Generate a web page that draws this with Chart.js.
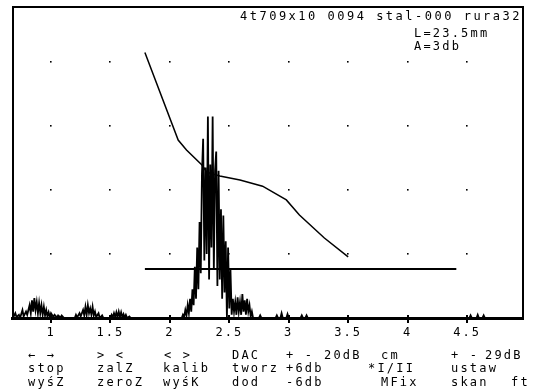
<!DOCTYPE html>
<html>
<head>
<meta charset="utf-8">
<script src="https://cdn.jsdelivr.net/npm/chart.js@4/dist/chart.umd.min.js"></script>
<style>
  html, body { margin: 0; padding: 0; background: #fff; }
  canvas { display: block; background: #fff; }
</style>
</head>
<body>
<canvas id="c" width="533" height="391"></canvas>
<script>
// ---- axis ticks ----
const X_TICKS = [1, 1.5, 2, 2.5, 3, 3.5, 4, 4.5];
const X_LABELS = ['1', '1.5', '2', '2.5', '3', '3.5', '4', '4.5'];
const Y_DOTS = [20, 40, 60, 80];

// ---- A-scan signal (depth in cm, amplitude in % screen height) ----
const SCAN_X = [0.68,0.70,0.71,0.73,0.74,0.76,0.77,0.79,0.80,0.82,0.83,0.84,0.85,0.86,0.87,0.88,0.89,0.90,0.91,0.92,0.93,0.94,0.95,0.96,0.97,0.98,0.99,1.00,1.02,1.03,1.05,1.06,1.08,1.09,1.11,
  1.20,1.21,1.22,1.24,1.25,1.27,1.28,1.29,1.30,1.31,1.32,1.33,1.34,1.35,1.36,1.37,1.38,1.40,1.41,1.43,1.44,
  1.50,1.51,1.52,1.53,1.54,1.55,1.56,1.57,1.58,1.59,1.60,1.61,1.62,1.63,1.64,1.66,1.67,
  2.10,2.11,2.12,2.13,2.14,2.15,2.16,2.17,2.18,2.19,2.20,2.21,2.22,2.23,2.24,2.25,2.26,2.27,2.28,2.29,2.30,2.31,2.32,2.33,2.34,2.35,2.36,2.37,2.38,2.39,2.40,
  2.41,2.42,2.43,2.44,2.45,2.46,2.47,2.48,2.49,2.50,2.51,2.52,2.53,2.54,2.55,2.56,2.57,2.58,2.59,2.60,2.61,2.62,2.63,2.64,2.65,2.66,2.67,2.68,2.69,2.70,
  2.75,2.76,2.77,2.89,2.90,2.91,2.93,2.94,2.95,2.98,2.99,3.00,3.10,3.11,3.12,3.14,3.15,3.16,
  4.52,4.53,4.54,4.58,4.59,4.60,4.63,4.64,4.65,4.97];
const SCAN_Y = [0,1.5,0.3,1,0,2.5,0.5,2,1,4,1.5,5.5,2,6.2,2.5,5,1.5,4.7,1.5,4,1,3.5,0.8,2.5,0.5,1.8,0.3,1.5,0.3,1,0.2,0.8,0.2,0.8,0,
  0,1,0.2,1.5,0.5,2.5,0.8,3.5,1,4,1.5,3,1,3.5,0.8,2,0.3,1.5,0,0.8,0,
  0,1,0.2,1.5,0.3,1.8,0.3,2,0.3,1.8,0.2,1.2,0.2,1,0,0.5,0,
  0,1,0.3,2.5,0.8,4,1.5,6,2,9,4,16,6,22,9,30,14,45,56,18,47,20,63,12,48,22,63,15,46,52,10,
  46,12,34,6,32,8,24,0,22,3,15,1,6,2,5,1,6.5,2,5,1,7.5,2,5.5,1,6,2,4,0.5,2,0,
  0,0.8,0,0,0.8,0,0,1.5,0,0,1.2,0,0,0.8,0,0,0.8,0,
  0,0.8,0,0,1,0,0,0.8,0,0];

// ---- DAC curve ----
const DAC_X = [1.79, 2.07, 2.14, 2.27, 2.31, 2.42, 2.59, 2.78, 2.98, 3.09, 3.30, 3.50];
const DAC_Y = [83, 55.6, 52.5, 47.8, 45.6, 44.4, 43.1, 41.2, 36.9, 32.2, 25, 19.1];

// ---- gate ----
const GATE_X = [1.79, 4.41];
const GATE_Y = [15.3, 15.3];

// ---- screen texts ----
const HEADER = '4t709x10 0094 stal-000 rura32';
const INFO = ['L=23.5mm', 'A=3db'];
const MENU = [
  // [text, x, row]
  ['\u2190 \u2192', 28, 0], ['stop', 28, 1], ['wy\u015bZ', 28, 2],
  ['> <', 97, 0], ['zalZ', 97, 1], ['zeroZ', 97, 2],
  ['< >', 164, 0], ['kalib', 163, 1], ['wy\u015bK', 163, 2],
  ['DAC', 232, 0], ['tworz', 232, 1], ['dod', 232, 2],
  ['+ -', 286, 0], ['20dB', 324, 0], ['+6db', 286, 1], ['-6db', 286, 2],
  ['cm', 381, 0], ['*I/II', 368, 1], ['MFix', 381, 2],
  ['+ -', 451, 0], ['29dB', 485, 0], ['ustaw', 451, 1], ['skan', 451, 2], ['ft', 511, 2]
];

const pairs = (xs, ys) => xs.map((x, i) => ({ x: x, y: ys[i] }));
const FONT = '12px "DejaVu Sans Mono"';

const screenPlugin = {
  id: 'screen',
  beforeDraw(chart) {
    chart.ctx.letterSpacing = '2px';
  },
  beforeDatasetsDraw(chart) {
    const ctx = chart.ctx, xs = chart.scales.x, ys = chart.scales.y;
    ctx.save();
    ctx.fillStyle = '#000';
    X_TICKS.forEach(v => {
      const px = Math.round(xs.getPixelForValue(v));
      Y_DOTS.forEach(d => {
        const py = Math.round(ys.getPixelForValue(d));
        ctx.fillRect(px - 1, py - 1, 1.6, 1.6);
      });
      // tick mark across the baseline
      const by = ys.getPixelForValue(0);
      ctx.fillRect(px - 1, by - 3, 2, 8);
    });
    ctx.restore();
  },
  afterDraw(chart) {
    const ctx = chart.ctx, a = chart.chartArea;
    ctx.save();
    // screen frame
    ctx.strokeStyle = '#000';
    ctx.lineWidth = 2;
    ctx.beginPath();
    ctx.moveTo(a.left + 1, a.bottom);
    ctx.lineTo(a.left + 1, a.top);
    ctx.lineTo(a.right, a.top);
    ctx.lineTo(a.right, a.bottom);
    ctx.stroke();
    // texts
    ctx.fillStyle = '#000';
    ctx.font = FONT;
    ctx.textAlign = 'left';
    ctx.textBaseline = 'alphabetic';
    ctx.letterSpacing = '2.5px';
    ctx.fillText(HEADER, 240, 20);
    ctx.letterSpacing = '2.2px';
    ctx.fillText(INFO[0], 414, 37);
    ctx.fillText(INFO[1], 414, 50);
    const rows = [359, 372, 386];
    MENU.forEach(m => ctx.fillText(m[0], m[1], rows[m[2]]));
    ctx.restore();
  }
};

new Chart(document.getElementById('c'), {
  type: 'line',
  data: {
    datasets: [
      { data: pairs(GATE_X, GATE_Y), borderColor: '#000', borderWidth: 2, pointRadius: 0, tension: 0 },
      { data: pairs(DAC_X, DAC_Y), borderColor: '#000', borderWidth: 1.5, pointRadius: 0, tension: 0 },
      { data: pairs(SCAN_X, SCAN_Y), borderColor: '#000', borderWidth: 1.8, pointRadius: 0, tension: 0 }
    ]
  },
  options: {
    responsive: false,
    animation: false,
    events: [],
    layout: { padding: { left: 12, right: 10, top: 7, bottom: 0 } },
    plugins: { legend: { display: false }, tooltip: { enabled: false }, title: { display: false } },
    scales: {
      x: {
        type: 'linear',
        min: 0.672,
        max: 4.971,
        afterBuildTicks: s => { s.ticks = X_TICKS.map(v => ({ value: v })); },
        afterFit: s => { s.height = 73; },
        grid: { display: false, drawTicks: false },
        border: { display: true, color: '#000', width: 3 },
        ticks: {
          autoSkip: false,
          maxRotation: 0,
          padding: 8,
          color: '#000',
          font: { family: 'DejaVu Sans Mono', size: 12 },
          callback: (v, i) => X_LABELS[i]
        }
      },
      y: {
        type: 'linear',
        min: 0,
        max: 97.2,
        display: false
      }
    }
  },
  plugins: [screenPlugin]
});
</script>
</body>
</html>
